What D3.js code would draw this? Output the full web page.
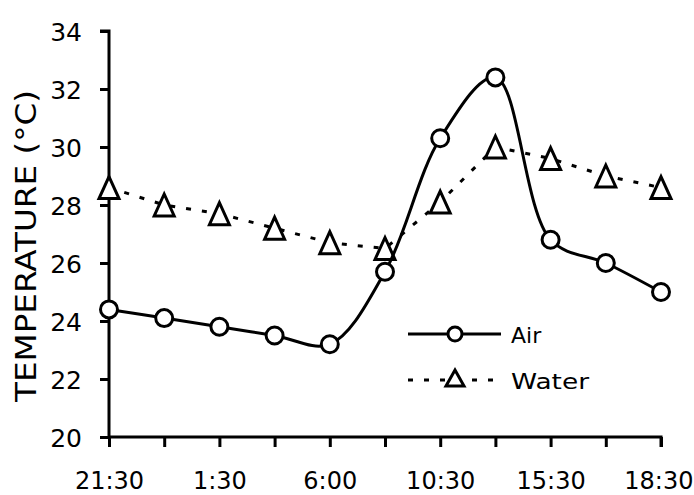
<!DOCTYPE html>
<html>
<head>
<meta charset="utf-8">
<script src="https://cdn.jsdelivr.net/npm/d3@7"></script>
<style>
  body { margin: 0; background: #fff; }
  svg { display: block; }
  text { font-family: "DejaVu Sans", sans-serif; fill: #000; }
</style>
</head>
<body>
<div id="chart"></div>
<script>
// time of day for each reading (only every other one is labelled)
const times = ["21:30", "23:30", "1:30", "3:45", "6:00", "8:15", "10:30", "13:00", "15:30", "17:00", "18:30"];
const shownTimes = ["21:30", "1:30", "6:00", "10:30", "15:30", "18:30"];
const airTemp = [24.4, 24.1, 23.8, 23.5, 23.2, 25.7, 30.3, 32.4, 26.8, 26.0, 25.0];
const waterTemp = [28.6, 28.0, 27.7, 27.2, 26.7, 26.5, 28.1, 30.0, 29.6, 29.0, 28.6];
const yTicks = [20, 22, 24, 26, 28, 30, 32, 34];

const width = 694, height = 495;
const margin = { top: 31, right: 33, bottom: 58, left: 109 };
const innerW = width - margin.left - margin.right;
const innerH = height - margin.top - margin.bottom;

const svg = d3.select("#chart").append("svg")
  .attr("width", width)
  .attr("height", height);

const g = svg.append("g")
  .attr("transform", `translate(${margin.left},${margin.top})`);

const x = d3.scalePoint().domain(times).range([0, innerW]);
const y = d3.scaleLinear().domain([20, 34]).range([innerH, 0]);

// axes
const yAxis = g.append("g")
  .call(d3.axisLeft(y).tickValues(yTicks).tickSize(9).tickPadding(18).tickFormat(d3.format("d")));
yAxis.select(".domain").attr("stroke-width", 3).attr("d", `M0,${innerH}V0H-9`);
yAxis.selectAll(".tick line").attr("stroke-width", 3);
yAxis.selectAll(".tick text").style("font-size", "25px").attr("dy", "0.36em");

const xAxis = g.append("g")
  .attr("transform", `translate(0,${innerH})`)
  .call(d3.axisBottom(x).tickSize(10).tickPadding(0).tickFormat(d => shownTimes.includes(d) ? d : ""));
xAxis.select(".domain").attr("stroke-width", 3).attr("d", `M0,0H${innerW}V10`);
xAxis.selectAll(".tick line").attr("stroke-width", 3);
xAxis.selectAll(".tick text").style("font-size", "24px").attr("y", 0).attr("dy", 52);
// last label would run off the right edge: pull it in
xAxis.selectAll(".tick text").filter(d => d === times[times.length - 1])
  .attr("text-anchor", "end")
  .attr("x", margin.right - 1);

// y title
svg.append("text")
  .attr("transform", "rotate(-90)")
  .attr("x", -246)
  .attr("y", 36)
  .attr("text-anchor", "middle")
  .attr("textLength", 312)
  .attr("lengthAdjust", "spacingAndGlyphs")
  .style("font-size", "28px")
  .text("TEMPERATURE (°C)");

const triangle = "M0,-11L10,11L-10,11Z";

// water series (dashed, straight)
const waterLine = d3.line()
  .x((d, i) => x(times[i]))
  .y(d => y(d));

g.append("path")
  .datum(waterTemp)
  .attr("fill", "none")
  .attr("stroke", "#000")
  .attr("stroke-width", 3)
  .attr("stroke-dasharray", "5,11")
  .attr("d", waterLine);

g.selectAll(".tri")
  .data(waterTemp)
  .enter()
  .append("path")
  .attr("class", "tri")
  .attr("transform", (d, i) => `translate(${x(times[i])},${y(d)})`)
  .attr("d", triangle)
  .attr("fill", "#fff")
  .attr("stroke", "#000")
  .attr("stroke-width", 3);

// air series (smoothed)
const airLine = d3.line()
  .x((d, i) => x(times[i]))
  .y(d => y(d))
  .curve(d3.curveCatmullRom);

g.append("path")
  .datum(airTemp)
  .attr("fill", "none")
  .attr("stroke", "#000")
  .attr("stroke-width", 3)
  .attr("d", airLine);

g.selectAll(".dot")
  .data(airTemp)
  .enter()
  .append("circle")
  .attr("class", "dot")
  .attr("cx", (d, i) => x(times[i]))
  .attr("cy", d => y(d))
  .attr("r", 8.5)
  .attr("fill", "#fff")
  .attr("stroke", "#000")
  .attr("stroke-width", 3);

// legend
const legend = svg.append("g").attr("transform", "translate(408,0)");

legend.append("line")
  .attr("x1", 0).attr("x2", 93)
  .attr("y1", 334).attr("y2", 334)
  .attr("stroke", "#000").attr("stroke-width", 3);
legend.append("circle")
  .attr("cx", 47).attr("cy", 334).attr("r", 7)
  .attr("fill", "#fff").attr("stroke", "#000").attr("stroke-width", 3);
legend.append("text")
  .attr("x", 103).attr("y", 343)
  .style("font-size", "22px")
  .text("Air");

legend.append("line")
  .attr("x1", 0).attr("x2", 93)
  .attr("y1", 380).attr("y2", 380)
  .attr("stroke", "#000").attr("stroke-width", 3)
  .attr("stroke-dasharray", "5,11");
legend.append("path")
  .attr("transform", "translate(47,378)")
  .attr("d", "M0,-8L9,8L-9,8Z")
  .attr("fill", "#fff").attr("stroke", "#000").attr("stroke-width", 3);
legend.append("text")
  .attr("x", 103).attr("y", 389)
  .attr("textLength", 78)
  .attr("lengthAdjust", "spacingAndGlyphs")
  .style("font-size", "22px")
  .text("Water");
</script>
</body>
</html>
